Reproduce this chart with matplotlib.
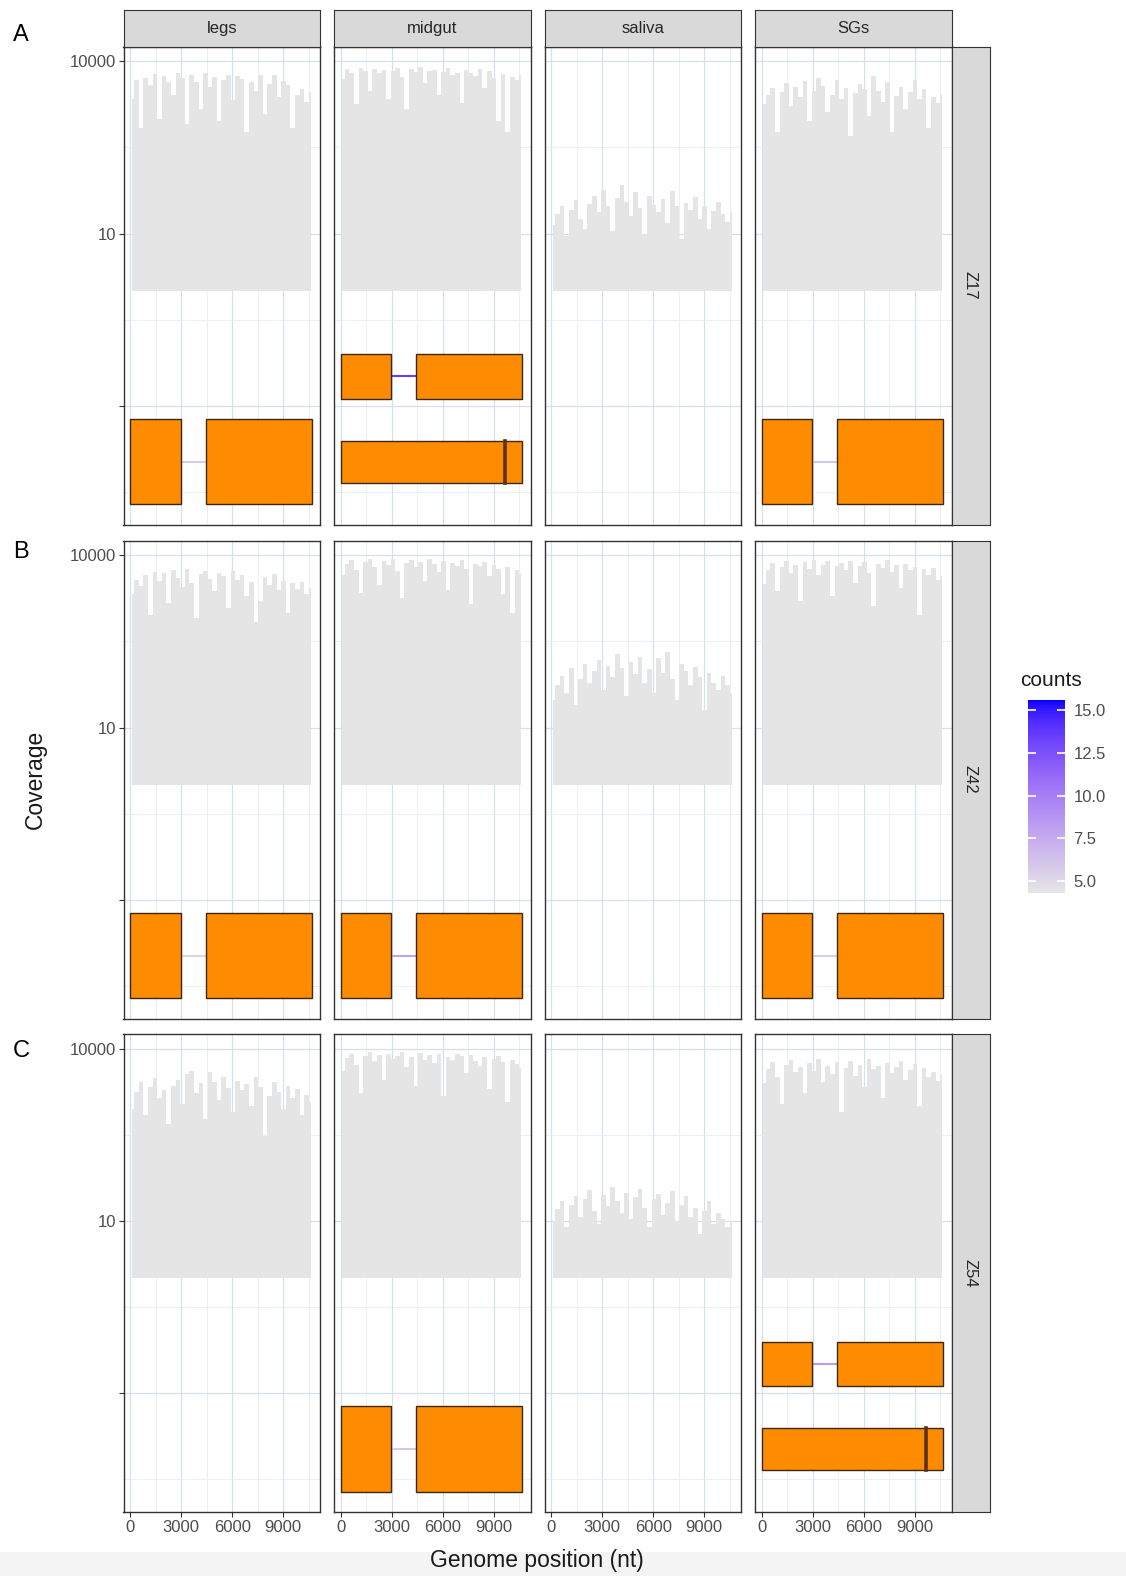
import numpy as np
import matplotlib
matplotlib.use('Agg')
import matplotlib.pyplot as plt
from matplotlib.colors import ListedColormap, Normalize
from matplotlib.ticker import FixedLocator, NullFormatter
from matplotlib.cm import ScalarMappable
from matplotlib.patches import Rectangle

plt.rcParams['font.family'] = ['Liberation Sans', 'DejaVu Sans']

tissues = ['legs', 'midgut', 'saliva', 'SGs']
samples = ['Z17', 'Z42', 'Z54']
panel_tags = ['A', 'B', 'C']

# coverage bins along the genome (nt)
positions = np.arange(100, 10700, 270)

cov_z17_legs = [2200, 4800, 700, 5200, 3900, 6100, 1000, 5600, 4300, 2600, 6400, 5100, 800, 5900, 4400, 1500, 6200, 3600, 5300, 900,
                4700, 5800, 2100, 5500, 4900, 600, 4300, 3100, 5700, 1200, 4100, 5900, 2400, 4600, 3900, 700, 2600, 3300, 2000, 2900]
cov_z17_midgut = [5000, 7400, 6200, 1800, 7800, 6900, 3000, 7500, 6300, 7100, 2200, 6800, 7600, 5400, 1500, 7300, 6600, 7900, 4200, 6900,
                  7200, 2600, 6500, 7700, 5900, 6200, 1900, 7000, 6400, 5600, 7300, 3400, 6800, 5200, 900, 6100, 600, 5300, 4700, 5800]
cov_z17_saliva = [14, 22, 30, 9, 26, 38, 18, 12, 33, 45, 24, 58, 30, 11, 42, 70, 36, 20, 52, 28,
                  10, 46, 32, 24, 40, 15, 55, 30, 8, 34, 26, 44, 18, 30, 12, 25, 36, 22, 16, 24]
cov_z17_sgs = [1800, 2600, 3400, 600, 2900, 4200, 1700, 3600, 2400, 4600, 900, 3000, 5200, 3800, 1300, 2600, 4800, 2200, 3500, 500,
               2800, 4000, 3300, 1100, 5500, 3000, 2000, 4300, 600, 2500, 3600, 1500, 2900, 4700, 2200, 3300, 700, 2400, 1900, 2600]

cov_z42_legs = [2100, 3800, 2900, 4500, 900, 5200, 3600, 4900, 1500, 5600, 4100, 2800, 5800, 3300, 800, 4700, 5400, 3900, 2400, 5000,
                4300, 1200, 5300, 3800, 4600, 2000, 3500, 700, 1600, 4200, 3100, 4800, 2500, 3600, 1000, 3300, 2600, 3400, 2100, 2700]
cov_z42_midgut = [4600, 7200, 8400, 5600, 2200, 7700, 8800, 6400, 3100, 7900, 6900, 8500, 5300, 1800, 7400, 8200, 6200, 7600, 3600, 8600,
                  7000, 5200, 8100, 2500, 7300, 6600, 8300, 5800, 1400, 7100, 6500, 7800, 4300, 6900, 5900, 2100, 6300, 1000, 5600, 4900]
cov_z42_saliva = [30, 55, 80, 40, 110, 25, 70, 130, 60, 95, 150, 45, 120, 75, 190, 110, 35, 140, 85, 170,
                  60, 105, 40, 160, 90, 210, 70, 30, 130, 95, 55, 115, 75, 20, 90, 60, 45, 80, 55, 40]
cov_z42_sgs = [3200, 5600, 7400, 2400, 6200, 8100, 5000, 6900, 1600, 7600, 5900, 8300, 4500, 6800, 7900, 2000, 6500, 7300, 5500, 8000,
               3300, 6600, 7700, 4900, 1300, 7200, 6000, 8200, 5100, 6700, 2700, 7000, 5600, 6300, 900, 5800, 4600, 6100, 3800, 4400]

cov_z54_legs = [900, 1800, 2600, 700, 2200, 3100, 1400, 1900, 500, 2300, 2900, 1100, 3600, 4200, 1700, 2500, 600, 3900, 2700, 1300,
                3200, 2100, 800, 2800, 1900, 2400, 1000, 3300, 2200, 300, 1500, 2600, 1800, 900, 2300, 1400, 2000, 700, 1600, 1200]
cov_z54_midgut = [4200, 6900, 8200, 5300, 1700, 7400, 8700, 6100, 7800, 2900, 8100, 6700, 7500, 8900, 4800, 7200, 2300, 8400, 6300, 7700,
                  5600, 8000, 1500, 7100, 6500, 8300, 7400, 3800, 7900, 6200, 5100, 7300, 2000, 6800, 7600, 5800, 1200, 6400, 5400, 4600]
cov_z54_saliva = [10, 16, 22, 8, 19, 27, 12, 24, 35, 15, 9, 29, 18, 40, 22, 14, 31, 11, 26, 36,
                  17, 8, 24, 30, 13, 21, 33, 10, 19, 27, 12, 17, 6, 15, 22, 9, 14, 11, 8, 10]
cov_z54_sgs = [2500, 4400, 5800, 3200, 1100, 5200, 6300, 3900, 4800, 1700, 5600, 4100, 6800, 2600, 5000, 3600, 5900, 800, 4700, 6100,
               3400, 5300, 2200, 6600, 4500, 5100, 1400, 5700, 3800, 4900, 6200, 2900, 4300, 5500, 1000, 4600, 3300, 3900, 2800, 3500]

coverage = {
    'Z17': [cov_z17_legs, cov_z17_midgut, cov_z17_saliva, cov_z17_sgs],
    'Z42': [cov_z42_legs, cov_z42_midgut, cov_z42_saliva, cov_z42_sgs],
    'Z54': [cov_z54_legs, cov_z54_midgut, cov_z54_saliva, cov_z54_sgs],
}

# assembled genome models: two-exon (spliced) or single full-length with stop mark
split_exons = [(0, 2980), (4450, 10680)]
full_exon = [(0, 10680)]
stop_pos = 9640

models_z17 = {'legs': ['split'], 'midgut': ['split', 'full'], 'saliva': [], 'SGs': ['split']}
models_z42 = {'legs': ['split'], 'midgut': ['split'], 'saliva': [], 'SGs': ['split']}
models_z54 = {'legs': [], 'midgut': ['split'], 'saliva': [], 'SGs': ['split', 'full']}
models = {'Z17': models_z17, 'Z42': models_z42, 'Z54': models_z54}

# junction read counts for the intron line
junction_z17 = {'legs': 5.8, 'midgut': 13.5, 'SGs': 6.0}
junction_z42 = {'legs': 5.3, 'midgut': 8.0, 'SGs': 5.5}
junction_z54 = {'midgut': 6.0, 'SGs': 8.5}
junctions = {'Z17': junction_z17, 'Z42': junction_z42, 'Z54': junction_z54}

count_ticks = [5.0, 7.5, 10.0, 12.5, 15.0]
count_lims = (4.3, 15.6)


# grey90 -> blue gradient interpolated in CIELAB
def to_lab(hexcol):
    rgb = np.array([int(hexcol[i:i + 2], 16) / 255 for i in (1, 3, 5)])
    c = np.where(rgb > 0.04045, ((rgb + 0.055) / 1.055) ** 2.4, rgb / 12.92)
    xyz = np.array([[0.4124, 0.3576, 0.1805],
                    [0.2126, 0.7152, 0.0722],
                    [0.0193, 0.1192, 0.9505]]) @ c
    xyz = xyz / np.array([0.95047, 1.0, 1.08883])
    f = np.where(xyz > 0.008856, np.cbrt(xyz), 7.787 * xyz + 16 / 116)
    return np.array([116 * f[1] - 16, 500 * (f[0] - f[1]), 200 * (f[1] - f[2])])


def from_lab(lab):
    fy = (lab[0] + 16) / 116
    f = np.array([fy + lab[1] / 500, fy, fy - lab[2] / 200])
    xyz = np.where(f ** 3 > 0.008856, f ** 3, (f - 16 / 116) / 7.787)
    xyz = xyz * np.array([0.95047, 1.0, 1.08883])
    c = np.array([[3.2406, -1.5372, -0.4986],
                  [-0.9689, 1.8758, 0.0415],
                  [0.0557, -0.2040, 1.0570]]) @ xyz
    c = np.clip(c, 0, None)
    c = np.where(c > 0.0031308, 1.055 * c ** (1 / 2.4) - 0.055, 12.92 * c)
    return np.clip(c, 0, 1)


lab_lo, lab_hi = to_lab('#e5e5e5'), to_lab('#0000ff')
cmap = ListedColormap([from_lab(lab_lo + t * (lab_hi - lab_lo)) for t in np.linspace(0, 1, 256)])
norm = Normalize(*count_lims)

W, H = 1126, 1576
fig = plt.figure(figsize=(W / 100, H / 100), dpi=100)

# pale band along the bottom edge
fig.patches.append(Rectangle((0, 0), 1, 24 / H, transform=fig.transFigure,
                             facecolor='#f4f4f4', edgecolor='none', zorder=-1))


def rect(x0, y0, w, h):
    return [x0 / W, 1 - (y0 + h) / H, w / W, h / H]


col_left = [123.5, 334, 544.5, 755]
col_w = 196.5
row_top = [46.5, 540.5, 1034]
row_h = 478
tag_y = [35, 552, 1051]
ylim = (10 ** -4.07, 10 ** 4.26)
one_row = [(-3.72, -2.23)]
two_rows = [(-1.88, -1.10), (-3.34, -2.61)]

edge = '#333333'
orange = '#ff8c00'

for r, samp in enumerate(samples):
    for c, tis in enumerate(tissues):
        ax = fig.add_axes(rect(col_left[c], row_top[r], col_w, row_h))
        ax.set_yscale('log')
        ax.set_xlim(-400, 11160)
        ax.set_ylim(*ylim)
        ax.set_axisbelow(True)

        ax.fill_between(positions, 1, coverage[samp][c], step='mid', color='#e5e5e5', lw=0)

        rows = models[samp][tis]
        spans = one_row if len(rows) == 1 else two_rows
        for kind, (lo, hi) in zip(rows, spans):
            y0, y1 = 10 ** lo, 10 ** hi
            exons = split_exons if kind == 'split' else full_exon
            if kind == 'split':
                ymid = 10 ** ((lo + hi) / 2)
                ax.plot([split_exons[0][1], split_exons[1][0]], [ymid, ymid],
                        color=cmap(norm(junctions[samp][tis])), lw=1.5, zorder=2)
            for s, e in exons:
                ax.bar(s, y1 - y0, width=e - s, bottom=y0, align='edge',
                       color=orange, edgecolor='#3b2812', linewidth=1.0, zorder=3)
            if kind == 'full':
                ax.plot([stop_pos, stop_pos], [y0, y1], color='#5a3205', lw=2.6, zorder=4)

        ax.yaxis.set_major_locator(FixedLocator([1e-2, 10, 1e4]))
        ax.yaxis.set_minor_locator(FixedLocator([10 ** -3.5, 10 ** -0.5, 10 ** 2.5]))
        ax.yaxis.set_minor_formatter(NullFormatter())
        ax.xaxis.set_major_locator(FixedLocator([0, 3000, 6000, 9000]))
        ax.xaxis.set_minor_locator(FixedLocator([1500, 4500, 7500, 10500]))
        ax.grid(which='major', color='#d3e0f0', lw=0.9)
        ax.grid(which='minor', color='#e6eef8', lw=0.6)
        for sp in ax.spines.values():
            sp.set_color(edge)
            sp.set_linewidth(1.0)
        ax.tick_params(which='minor', length=0)
        ax.tick_params(which='major', length=3.5, width=0.8, color=edge,
                       labelsize=12, labelcolor='#4d4d4d', pad=2)
        if c == 0:
            ax.set_yticklabels(['', '10', '10000'])
        else:
            ax.tick_params(axis='y', left=False, labelleft=False)
        if r == len(samples) - 1:
            ax.set_xticklabels(['0', '3000', '6000', '9000'])
        else:
            ax.tick_params(axis='x', bottom=False, labelbottom=False)

        if r == 0:
            sax = fig.add_axes(rect(col_left[c], 10, col_w, 36.5))
            sax.set_facecolor('#d9d9d9')
            sax.set_xticks([])
            sax.set_yticks([])
            for sp in sax.spines.values():
                sp.set_color(edge)
                sp.set_linewidth(0.8)
            sax.text(0.5, 0.5, tis, ha='center', va='center', fontsize=12, color='#262626',
                     transform=sax.transAxes)

    rax = fig.add_axes(rect(col_left[3] + col_w, row_top[r], 38, row_h))
    rax.set_facecolor('#d9d9d9')
    rax.set_xticks([])
    rax.set_yticks([])
    for sp in rax.spines.values():
        sp.set_color(edge)
        sp.set_linewidth(0.8)
    rax.text(0.5, 0.5, samp, ha='center', va='center', rotation=-90, fontsize=12,
             color='#262626', transform=rax.transAxes)

    fig.text(21 / W, 1 - tag_y[r] / H, panel_tags[r], ha='center', va='center',
             fontsize=17, color='black')

fig.text(537 / W, 1 - 1561 / H, 'Genome position (nt)', ha='center', va='center',
         fontsize=16.5, color='#1a1a1a')
fig.text(35 / W, 1 - 779 / H, 'Coverage', ha='center', va='center', rotation=90,
         fontsize=16.5, color='#1a1a1a')

# colour legend for junction counts
cax = fig.add_axes(rect(1028, 700, 37, 193))
cb = fig.colorbar(ScalarMappable(norm=norm, cmap=cmap), cax=cax)
cb.outline.set_visible(False)
cb.set_ticks(count_ticks)
cb.set_ticklabels([f'{t:.1f}' for t in count_ticks])
cax.tick_params(axis='y', left=True, right=True, direction='in', length=6, width=1.2,
                color='white', labelsize=12, labelcolor='#4d4d4d', pad=6)
fig.text(1020 / W, 1 - 681 / H, 'counts', ha='left', va='center', fontsize=15, color='#1a1a1a')

fig.savefig('out.png', dpi=100, facecolor='white')
